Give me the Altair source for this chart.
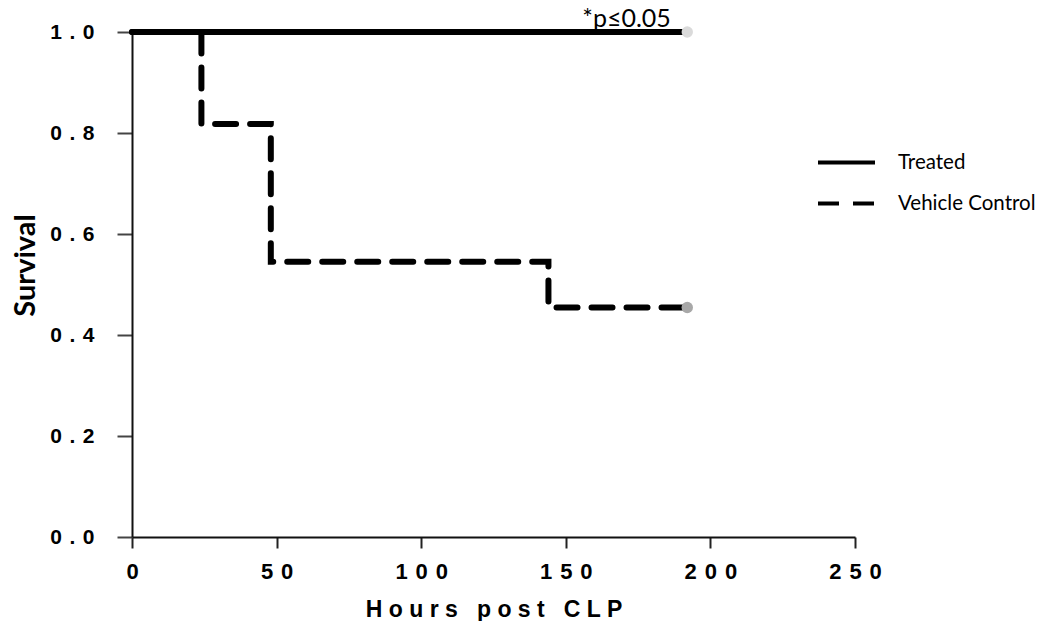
import altair as alt
import pandas as pd

# Kaplan-Meier step data
treated_hours = [0, 192]
treated_surv = [1.0, 1.0]
vehicle_hours = [0, 24, 48, 144, 192]
vehicle_surv = [1.0, 0.818, 0.545, 0.4545, 0.4545]

groups = ["Treated", "Vehicle Control"]
censor_hours = [192, 192]
censor_surv = [1.0, 0.4545]

annot_text = ["*p\u22640.05"]
annot_hours = [171]
annot_surv = [1.0]

x_ticks = [0, 50, 100, 150, 200, 250]
y_ticks = [0.0, 0.2, 0.4, 0.6, 0.8, 1.0]

rows = []
for h, s in zip(treated_hours, treated_surv):
    rows.append({"hours": h, "surv": s, "group": groups[0]})
for h, s in zip(vehicle_hours, vehicle_surv):
    rows.append({"hours": h, "surv": s, "group": groups[1]})
df = pd.DataFrame(rows)

cens = pd.DataFrame({"hours": censor_hours, "surv": censor_surv, "group": groups})
annot = pd.DataFrame({"hours": annot_hours, "surv": annot_surv, "label": annot_text})

xscale = alt.Scale(domain=[0, 250], nice=False, zero=False)
yscale = alt.Scale(domain=[0, 1], nice=False)

x_axis = alt.Axis(
    values=x_ticks,
    title="H o u r s \u00a0 p o s t \u00a0 C L P",
    labelExpr="join(split(format(datum.value, 'd'), ''), ' \u200a')",
    grid=False, labelFlush=False, labelOverlap=False,
    labelFont="Liberation Sans", labelFontWeight="bold", labelFontSize=22,
    labelColor="black", labelPadding=13,
    titleFont="Liberation Sans", titleFontWeight="bold", titleFontSize=23,
    titleColor="black", titlePadding=16,
    tickSize=11, tickWidth=2, tickColor="#222222",
    domainColor="#111111", domainWidth=2,
)
y_axis = alt.Axis(
    values=y_ticks,
    title="Survival",
    labelExpr="join(split(format(datum.value, '.1f'), ''), ' \u200a')",
    grid=False, labelOverlap=False,
    labelFont="Liberation Sans", labelFontWeight="bold", labelFontSize=21,
    labelColor="black", labelPadding=23,
    titleFont="Lato", titleFontWeight="bold", titleFontSize=29,
    titleColor="black", titleX=-98, titleY=233, titleAngle=270,
    titleBaseline="alphabetic", titleAlign="center",
    tickSize=15, tickWidth=2, tickColor="#444444",
    domainColor="#111111", domainWidth=2,
)

lines = alt.Chart(df).mark_line(
    interpolate="step-after", strokeWidth=6, color="black", strokeCap="round"
).encode(
    x=alt.X("hours:Q", scale=xscale, axis=x_axis),
    y=alt.Y("surv:Q", scale=yscale, axis=y_axis),
    strokeDash=alt.StrokeDash(
        "group:N",
        scale=alt.Scale(domain=groups, range=[[1, 0], [21, 14]]),
        legend=alt.Legend(
            title=None, orient="none", legendX=684, legendY=100,
            symbolType="stroke", symbolSize=3249, symbolStrokeWidth=4,
            symbolStrokeColor="black", labelFont="Lato", labelFontSize=20.5,
            labelColor="black", labelOffset=21, rowPadding=-10,
        ),
    ),
    order="hours:Q",
)

points = alt.Chart(cens).mark_point(
    shape="circle", filled=True, size=130, opacity=1
).encode(
    x=alt.X("hours:Q", scale=xscale),
    y=alt.Y("surv:Q", scale=yscale),
    color=alt.Color("group:N", scale=alt.Scale(domain=groups, range=["#dadada", "#a8a8a8"]), legend=None),
)

text = alt.Chart(annot).mark_text(
    font="Lato", fontSize=25, color="black", dy=-5, align="center", baseline="alphabetic"
).encode(
    x=alt.X("hours:Q", scale=xscale),
    y=alt.Y("surv:Q", scale=yscale),
    text="label:N",
)

chart = alt.layer(lines, points, text).properties(
    width=723, height=505,
    autosize=alt.AutoSizeParams(type="none"),
    padding={"left": 124, "top": 24, "right": 187, "bottom": 84},
).configure_view(stroke=None)

chart.save("out.html", embed_options={"renderer": "svg", "actions": False})
